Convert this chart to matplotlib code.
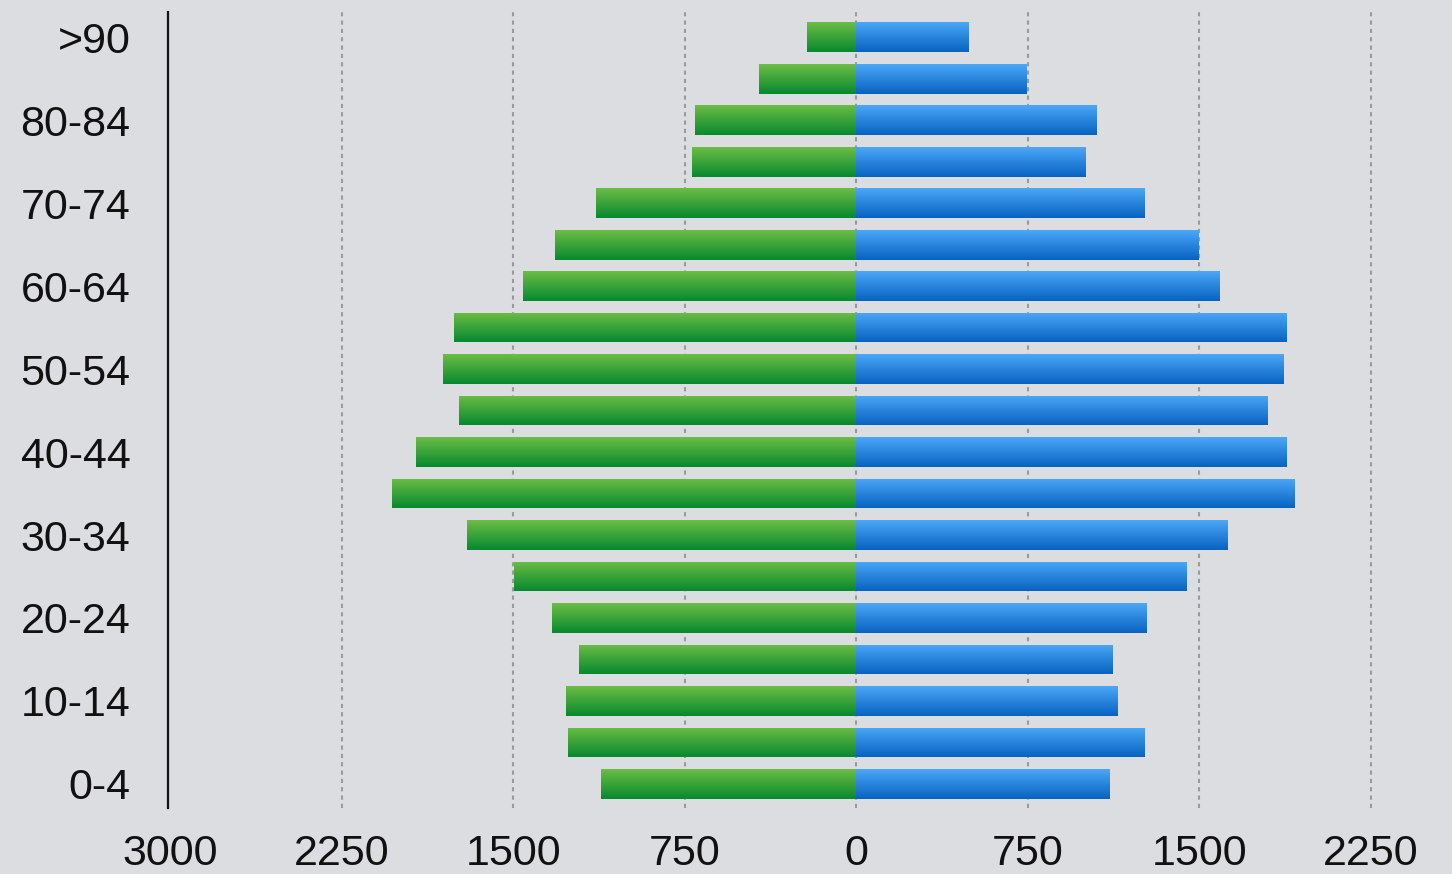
import numpy as np
import matplotlib.pyplot as plt

# grupos de edad, de abajo hacia arriba
edades = ["0-4", "5-9", "10-14", "15-19", "20-24", "25-29", "30-34", "35-39",
          "40-44", "45-49", "50-54", "55-59", "60-64", "65-69", "70-74",
          "75-79", "80-84", "85-89", ">90"]
verdes = [1118, 1259, 1268, 1211, 1329, 1496, 1702, 2031, 1925, 1737,
          1807, 1759, 1456, 1316, 1140, 719, 706, 425, 215]
azules = [1110, 1263, 1145, 1123, 1272, 1447, 1623, 1917, 1882, 1798,
          1868, 1882, 1588, 1496, 1263, 1004, 1053, 746, 491]
ticks_x = [-3000, -2250, -1500, -750, 0, 750, 1500, 2250]

FONDO = "#dcdde1"
plt.rcParams['font.family'] = ['Liberation Sans', 'DejaVu Sans']

fig = plt.figure(figsize=(14.52, 8.74), dpi=100, facecolor=FONDO)
ax = fig.add_axes([0.1157, 0.0755, 0.8829, 0.9105])
ax.set_facecolor(FONDO)

y = np.arange(len(edades))
alto = 0.72
barras_v = ax.barh(y, -np.array(verdes), height=alto, color="none", zorder=2)
barras_a = ax.barh(y, azules, height=alto, color="none", zorder=2)

# relleno degradado vertical (claro arriba, oscuro abajo)
def degradado(barras, arriba, abajo):
    c1 = np.array(plt.matplotlib.colors.to_rgb(abajo))
    c2 = np.array(plt.matplotlib.colors.to_rgb(arriba))
    t = np.linspace(0, 1, 64)[:, None]
    img = (c1 * (1 - t) + c2 * t)[:, None, :]
    for b in barras:
        x0, y0 = b.get_x(), b.get_y()
        w, h = b.get_width(), b.get_height()
        im = ax.imshow(img, extent=[x0, x0 + w, y0, y0 + h], origin="lower",
                       aspect="auto", zorder=2, interpolation="bilinear")
        im.set_clip_path(b)

degradado(barras_v, "#6cbd45", "#07892f")
degradado(barras_a, "#4ba7f7", "#0763c0")

ax.set_xlim(-3010, 2596)
ax.set_ylim(-0.58, 18.6)

ax.set_xticks(ticks_x)
ax.set_xticklabels([str(abs(v)) for v in ticks_x])
ax.set_yticks(y[::2])
ax.set_yticklabels(edades[::2])
ax.tick_params(axis="both", length=0, labelsize=31, colors="#111111")
ax.tick_params(axis="y", pad=27)
ax.tick_params(axis="x", pad=19)

ax.xaxis.grid(True, color="#9a9a9a", linestyle=(0, (2, 2)), linewidth=1.5)
ax.xaxis.get_gridlines()[0].set_visible(False)  # la de 3000 queda bajo el eje
ax.set_axisbelow(True)
for s in ["top", "right", "bottom"]:
    ax.spines[s].set_visible(False)
ax.spines["left"].set_linewidth(1.6)
ax.spines["left"].set_color("#111111")

fig.savefig("out.png", dpi=100, facecolor=FONDO)
